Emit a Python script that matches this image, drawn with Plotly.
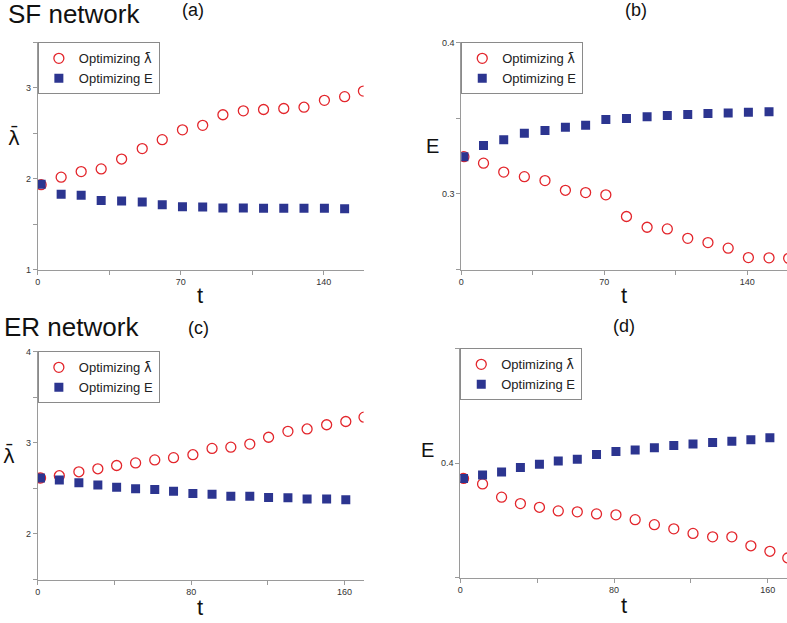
import plotly.graph_objects as go

LAM = '<span style="font-family:DejaVu Sans">\u03bb\u0304</span>'

# (a) SF network, mean lambda
t_a_lam = [1.6, 11.4, 21.2, 31.0, 41.0, 51.1, 60.9, 70.8, 80.7, 90.6, 100.6, 110.5, 120.4, 130.3, 140.3, 150.2, 159.4]
lam_a_lam = [1.935, 2.018, 2.079, 2.108, 2.217, 2.332, 2.430, 2.538, 2.588, 2.704, 2.747, 2.762, 2.773, 2.787, 2.863, 2.903, 2.964]
t_a_e = [1.6, 11.4, 21.2, 31.0, 41.0, 51.1, 60.9, 70.8, 80.7, 90.6, 100.6, 110.5, 120.4, 130.3, 140.3, 150.2]
lam_a_e = [1.939, 1.830, 1.819, 1.762, 1.755, 1.744, 1.715, 1.693, 1.690, 1.679, 1.679, 1.675, 1.675, 1.675, 1.675, 1.671]

# (b) SF network, E
t_b_lam = [1.3, 10.9, 20.8, 30.9, 41.0, 51.0, 60.9, 70.8, 80.9, 91.0, 100.9, 110.9, 120.8, 130.7, 140.6, 150.7, 160.3]
e_b_lam = [0.3246, 0.3203, 0.3144, 0.3114, 0.3088, 0.3024, 0.3009, 0.2994, 0.2851, 0.2780, 0.2769, 0.2707, 0.2679, 0.2642, 0.2580, 0.2578, 0.2575]
t_b_e = [1.3, 10.9, 20.8, 30.9, 41.0, 51.0, 60.9, 70.8, 80.9, 91.0, 100.9, 110.9, 120.8, 130.7, 140.6, 150.7]
e_b_e = [0.3246, 0.3319, 0.3358, 0.3401, 0.3418, 0.3440, 0.3453, 0.3491, 0.3498, 0.3509, 0.3517, 0.3524, 0.3530, 0.3534, 0.3539, 0.3543]

# (c) ER network, mean lambda
t_c_lam = [1.4, 11.2, 21.4, 31.3, 41.1, 51.0, 61.0, 70.8, 80.9, 90.9, 100.7, 110.6, 120.4, 130.5, 140.5, 150.7, 160.7, 170.2]
lam_c_lam = [2.613, 2.638, 2.681, 2.714, 2.750, 2.778, 2.811, 2.836, 2.868, 2.937, 2.951, 2.984, 3.059, 3.124, 3.150, 3.196, 3.232, 3.279]
t_c_e = [1.4, 11.2, 21.4, 31.3, 41.1, 51.0, 61.0, 70.8, 80.9, 90.9, 100.7, 110.6, 120.4, 130.5, 140.5, 150.7, 160.7]
lam_c_e = [2.613, 2.591, 2.562, 2.537, 2.512, 2.494, 2.486, 2.468, 2.443, 2.436, 2.414, 2.414, 2.400, 2.396, 2.382, 2.382, 2.375]

# (d) ER network, E
t_d_lam = [1.7, 11.6, 21.5, 31.3, 41.2, 51.0, 60.9, 70.9, 81.0, 91.0, 101.0, 111.1, 121.1, 131.3, 141.3, 151.2, 161.1, 170.4]
e_d_lam = [0.3933, 0.3909, 0.3851, 0.3823, 0.3807, 0.3791, 0.3787, 0.3778, 0.3774, 0.3753, 0.3731, 0.3713, 0.3693, 0.3678, 0.3678, 0.3639, 0.3615, 0.3586]
t_d_e = [1.7, 11.6, 21.5, 31.3, 41.2, 51.0, 60.9, 70.9, 81.0, 91.0, 101.0, 111.1, 121.1, 131.3, 141.3, 151.2, 161.1]
e_d_e = [0.3933, 0.3948, 0.3961, 0.3981, 0.3995, 0.4009, 0.4017, 0.4037, 0.4050, 0.4057, 0.4067, 0.4077, 0.4083, 0.4090, 0.4095, 0.4101, 0.4110]

RED = "#e3262c"
NAVY = "#2c3590"
W, H = 787, 623
FONT = "Liberation Sans, Arial, sans-serif"

# pixel boxes of the four plot areas: left, right, top, bottom
panels = [
    dict(box=(35, 362, 38, 269), xr=[0, 159.5], xd=70, yr=[1, 3.5], yd=1, ylab=LAM,
         data=(t_a_lam, lam_a_lam, t_a_e, lam_a_e)),
    dict(box=(460, 787.5, 38, 269), xr=[0, 159.5], xd=70, yr=[0.25, 0.4], yd=0.1, ylab="E",
         data=(t_b_lam, e_b_lam, t_b_e, e_b_e)),
    dict(box=(35, 362, 352, 584), xr=[0, 170], xd=80, yr=[1.5, 4], yd=1, ylab=LAM,
         data=(t_c_lam, lam_c_lam, t_c_e, lam_c_e)),
    dict(box=(459, 787.5, 349, 582), xr=[0, 170], xd=80, yr=[0.35, 0.45], yd=0.1, ylab="E",
         data=(t_d_lam, e_d_lam, t_d_e, e_d_e)),
]
ylab_pos = [(11, 135), (431, 143), (6, 458), (426, 452)]
tlab_pos = [(198, 295), (623, 295), (198, 612), (623, 610)]

fig = go.Figure()
layout = {}
annotations = []

for i, p in enumerate(panels):
    n = i + 1
    sfx = "" if n == 1 else str(n)
    l, r, t, b = p["box"]
    xd = [l / W, min(r / W, 1.0)]
    yd = [1 - b / H, 1 - t / H]
    tx, ty, ex, ey = p["data"]
    leg = "legend" if n == 1 else "legend%d" % n

    fig.add_trace(go.Scatter(
        x=tx, y=ty, mode="markers", name="Optimizing " + LAM, legend=leg,
        xaxis="x" + sfx, yaxis="y" + sfx, cliponaxis=True,
        marker=dict(symbol="circle-open", size=10, color=RED, line=dict(width=1.3, color=RED)),
    ))
    fig.add_trace(go.Scatter(
        x=ex, y=ey, mode="markers", name="Optimizing E", legend=leg,
        xaxis="x" + sfx, yaxis="y" + sfx, cliponaxis=True,
        marker=dict(symbol="square", size=9, color=NAVY),
    ))

    common = dict(showgrid=False, zeroline=False, showline=True, linecolor="#9a9a9a", linewidth=1,
                  ticks="outside", ticklen=4, tickcolor="#9a9a9a", tickwidth=1,
                  tickfont=dict(family=FONT, size=9, color="#333"))
    layout["xaxis" + sfx] = dict(common, domain=xd, range=p["xr"], anchor="y" + sfx,
                                 dtick=p["xd"], tick0=0,
                                 minor=dict(dtick=p["xd"] / 2, ticks="outside", ticklen=4, tickcolor="#9a9a9a"))
    layout["yaxis" + sfx] = dict(common, domain=yd, range=p["yr"], anchor="x" + sfx,
                                 dtick=p["yd"], tick0=0,
                                 minor=dict(dtick=p["yd"] / 2, ticks="outside", ticklen=4, tickcolor="#9a9a9a"))

    # mirrored frame with inward ticks on top and right
    m = n + 4
    inner = dict(showgrid=False, zeroline=False, showline=True, linecolor="#9a9a9a", linewidth=1,
                 ticks="inside", ticklen=3, tickcolor="#9a9a9a", showticklabels=False)
    layout["xaxis%d" % m] = dict(inner, overlaying="x" + sfx, side="top", anchor="y" + sfx,
                                 range=p["xr"], dtick=p["xd"] / 2, tick0=0)
    layout["yaxis%d" % m] = dict(inner, overlaying="y" + sfx, side="right", anchor="x" + sfx,
                                 range=p["yr"], dtick=p["yd"] / 2, tick0=0)

    layout[leg] = dict(x=l / W, y=1 - t / H, xanchor="left", yanchor="top",
                       bgcolor="white", bordercolor="#8a8a8a", borderwidth=1,
                       font=dict(family=FONT, size=13, color="#222"),
                       itemwidth=30, tracegroupgap=0)

    annotations.append(dict(text=p["ylab"], x=ylab_pos[i][0] / W, y=1 - ylab_pos[i][1] / H,
                            xref="paper", yref="paper", xanchor="center", yanchor="middle",
                            showarrow=False, font=dict(family=FONT, size=20, color="#111")))
    annotations.append(dict(text="t", x=tlab_pos[i][0] / W, y=1 - tlab_pos[i][1] / H,
                            xref="paper", yref="paper", xanchor="center", yanchor="middle",
                            showarrow=False, font=dict(family=FONT, size=22, color="#111")))

titles = [("SF network", 3, 9, 26, "left"), ("(a)", 191, 5, 18, "center"), ("(b)", 635, 5, 18, "center"),
          ("ER network", -1, 327, 26, "left"), ("(c)", 196, 328, 18, "center"), ("(d)", 623, 326, 18, "center")]
for txt, x, y, size, anc in titles:
    annotations.append(dict(text=txt, x=x / W, y=1 - y / H, xref="paper", yref="paper",
                            xanchor=anc, yanchor="middle", showarrow=False,
                            font=dict(family=FONT, size=size, color="#111")))

fig.update_layout(
    width=W, height=H,
    margin=dict(l=0, r=0, t=0, b=0),
    paper_bgcolor="white", plot_bgcolor="white",
    showlegend=True,
    annotations=annotations,
    **layout,
)

fig.write_html("out.html", config={"displayModeBar": False},
               post_script="document.body.style.margin='0px';")
